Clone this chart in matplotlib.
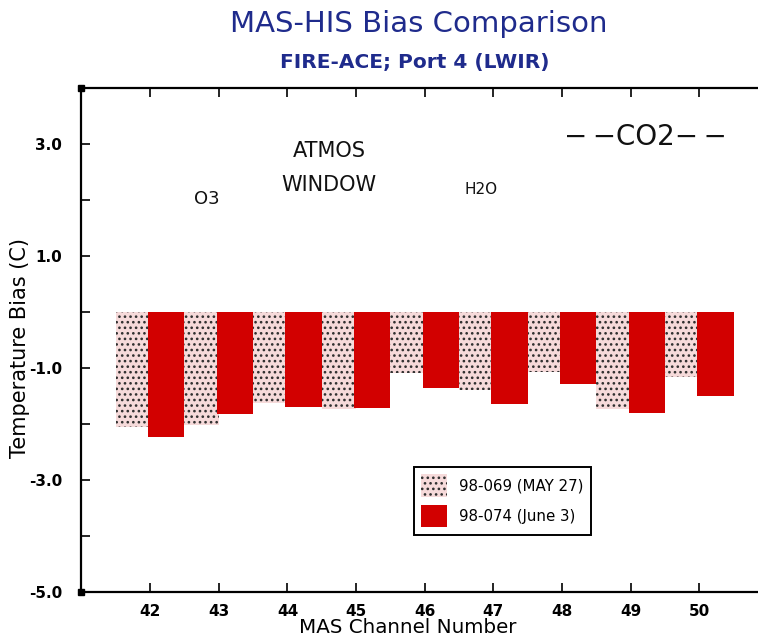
import matplotlib
matplotlib.use("Agg")
import matplotlib.pyplot as plt
import numpy as np
from matplotlib.patches import Patch

# MAS channels and the temperature bias (C) for the two flights
channels = [42, 43, 44, 45, 46, 47, 48, 49, 50]
bias_98_069 = [-2.05, -2.02, -1.63, -1.73, -1.09, -1.39, -1.07, -1.73, -1.16]
bias_98_074 = [-2.23, -1.82, -1.70, -1.71, -1.36, -1.64, -1.29, -1.80, -1.50]
series_labels = ["98-069 (MAY 27)", "98-074 (June 3)"]
y_ticks = [-5.0, -3.0, -1.0, 1.0, 3.0]
y_minor = [-4.0, -2.0, 0.0, 2.0, 4.0]

# spectral region annotations: (text, channel position, bias position, size)
regions = [
    ("O3", 42.83, 2.01, 13),
    ("ATMOS", 44.61, 2.87, 15),
    ("WINDOW", 44.61, 2.26, 15),
    ("H2O", 46.82, 2.19, 11),
    ("\u2212\u2009\u2212CO2\u2212\u2009\u2212", 49.21, 3.12, 20),
]

PINK = "#f6dada"
SPECKLE = "#2e2e2e"
RED = "#d20000"
BLUE = "#1f2b8c"

plt.rcParams["hatch.color"] = SPECKLE
plt.rcParams["hatch.linewidth"] = 1.1
plt.rcParams["font.family"] = "DejaVu Sans"

fig = plt.figure(figsize=(7.58, 6.39), dpi=100)
ax = fig.add_axes([0.1075, 0.0736, 0.9057, 0.7887])

x = np.array(channels, dtype=float)
w = 0.5

# stippled bars for the first flight, solid red for the second
ax.bar(x, bias_98_069, width=-w, align="edge", color=PINK,
       edgecolor=SPECKLE, linewidth=0, hatch="...", zorder=2)
ax.bar(x - 0.03, bias_98_074, width=w + 0.03, align="edge", color=RED,
       edgecolor=RED, linewidth=0, zorder=3)

ax.set_xlim(41, 51)
ax.set_ylim(-5, 4)

ax.set_xticks(channels)
ax.set_xticklabels([str(c) for c in channels], fontsize=11, fontweight="bold")
ax.set_yticks(y_ticks)
ax.set_yticklabels([f"{v:.1f}" for v in y_ticks], fontsize=11, fontweight="bold")
ax.set_yticks(y_minor, minor=True)
ax.tick_params(axis="both", which="both", direction="in", length=6.5, width=1.2,
               top=True, right=True, color="black")
ax.tick_params(axis="x", pad=9)
ax.tick_params(axis="y", pad=14)

for side in ["left", "bottom", "top", "right"]:
    ax.spines[side].set_linewidth(1.6)

# small square markers on the left corners of the frame
ax.plot([0, 0], [0, 1], "s", transform=ax.transAxes, ms=5, color="black",
        clip_on=False, zorder=5)

fig.text(0.538, 0.018, "MAS Channel Number", ha="center", va="center",
         fontsize=14.3)
fig.text(0.027, 0.455, "Temperature Bias (C)", ha="center", va="center",
         fontsize=15, rotation=90)

for text, cx, cy, size in regions:
    ax.text(cx, cy, text, ha="center", va="center", fontsize=size, color="#111111")

fig.text(0.552, 0.963, "MAS-HIS Bias Comparison", ha="center", va="center",
         fontsize=21, color=BLUE)
fig.text(0.547, 0.902, "FIRE-ACE; Port 4 (LWIR)", ha="center", va="center",
         fontsize=14.5, color=BLUE, fontweight="bold")

handles = [
    Patch(facecolor=PINK, edgecolor=SPECKLE, linewidth=0, hatch="..."),
    Patch(facecolor=RED, edgecolor=RED, linewidth=0),
]
leg = ax.legend(handles, series_labels, loc="upper left",
                bbox_to_anchor=(0.484, 0.248), borderaxespad=0,
                fontsize=10.8, frameon=True,
                fancybox=False, edgecolor="black", framealpha=1,
                handlelength=1.7, handleheight=1.9, borderpad=0.5,
                labelspacing=0.55, handletextpad=0.8)
leg.get_frame().set_linewidth(1.4)

fig.savefig("out.png", dpi=100)
